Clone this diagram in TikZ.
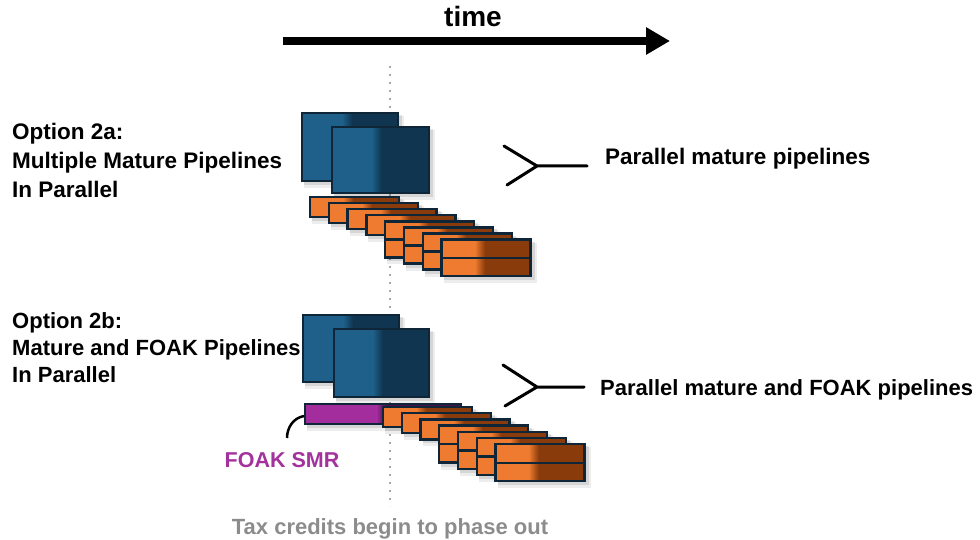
\documentclass[tikz,border=0pt]{standalone}
\usepackage{fontspec}
\setmainfont{Liberation Sans}
\usetikzlibrary{arrows.meta}
\definecolor{navy}{HTML}{0E2638}
\definecolor{bluel}{HTML}{1E6089}
\definecolor{blued}{HTML}{0F3550}
\definecolor{orl}{HTML}{EE7B2F}
\definecolor{ord}{HTML}{8A3B0C}
\definecolor{purl}{HTML}{A32D9C}
\definecolor{purd}{HTML}{4A0F48}
\definecolor{foakcol}{HTML}{A3329D}
\definecolor{taxgray}{HTML}{8C8C8C}
\definecolor{dotgray}{HTML}{A8A8A8}
\tikzset{
  boxline/.style={draw=navy,line width=2.4pt},
  forkline/.style={draw=black,line width=3pt,line cap=round,line join=miter},
  lbl/.style={font=\bfseries\fontsize{22}{28}\selectfont,inner sep=0pt,align=left},
}
% x y w h light dark frac rows
\newcommand\gbox[8]{%
  \fill[black,opacity=0.07] (#1+2,#2+3) rectangle ++(#3+4,#4+4);
  \fill[black,opacity=0.10] (#1+2,#2+2) rectangle ++(#3+2,#4+2);
  \fill[#5] (#1,#2) rectangle ++(#3,#4);
  \fill[#6] ({#1+#7*#3+5},#2) rectangle ({#1+#3},{#2+#4});
  \shade[left color=#5,right color=#6] ({#1+#7*#3-5},#2) rectangle ({#1+#7*#3+5},{#2+#4});
  \ifnum#8=2 \draw[boxline] (#1,{#2+#4/2}) -- ++(#3,0);\fi
  \draw[boxline] (#1,#2) rectangle ++(#3,#4);
}
\begin{document}
\begin{tikzpicture}[x=1pt,y=-1pt]
\useasboundingbox (0,0) rectangle (980,540);
% time arrow
\node[lbl,font=\bfseries\fontsize{28}{30}\selectfont,anchor=base] (time) at (473,27) {time};
\coordinate (ta) at (283,41);
\coordinate (tb) at (670,41);
\draw[line width=8pt,-{Triangle[length=24pt,width=26pt]}] (ta) -- (tb);
% dotted phase-out line
\coordinate (da) at (390,66);
\coordinate (db) at (390,506);
\draw[dotgray,line width=2pt,dash pattern=on 2pt off 6pt] (da) -- (db);

% ---- Option 2a ----
\node[lbl,font=\bfseries\fontsize{22.5}{29}\selectfont,anchor=base west] (o2a) at (12,198)
  {Option 2a:\\Multiple Mature Pipelines\\In Parallel};
\gbox{302}{113}{96}{68}{bluel}{blued}{0.47}{1}
\gbox{332}{127}{97}{66}{bluel}{blued}{0.46}{1}
\foreach \i in {0,...,7}{
  \pgfmathsetmacro\bx{310+18.8*\i}
  \pgfmathsetmacro\by{197+6.1*\i}
  \ifnum\i<4 \gbox{\bx}{\by}{89}{20}{orl}{ord}{0.43}{1}%
  \else \gbox{\bx}{\by}{89}{36}{orl}{ord}{0.43}{2}\fi
}
\coordinate (fa1) at (504,146);
\coordinate (fa0) at (537,166);
\coordinate (fa2) at (507,185);
\coordinate (fa3) at (587,166);
\draw[forkline] (fa1) -- (fa0) -- (fa2) (fa0) -- (fa3);
\node[lbl,font=\bfseries\fontsize{22.5}{28}\selectfont,anchor=base west] (pa) at (605,165) {Parallel mature pipelines};

% ---- Option 2b ----
\node[lbl,font=\bfseries\fontsize{22}{27}\selectfont,anchor=base west] (o2b) at (12,382)
  {Option 2b:\\Mature and FOAK Pipelines\\In Parallel};
\gbox{303}{315}{96}{67}{bluel}{blued}{0.47}{1}
\gbox{334}{329}{95}{68}{bluel}{blued}{0.46}{1}
\gbox{305}{404}{156}{20}{purl}{purd}{0.49}{1}
\coordinate (smr) at (304,416);
\foreach \i in {0,...,6}{
  \pgfmathsetmacro\bx{383+18.75*\i}
  \pgfmathsetmacro\by{407+6.2*\i}
  \ifnum\i<3 \gbox{\bx}{\by}{89}{20}{orl}{ord}{0.43}{1}%
  \else \gbox{\bx}{\by}{89}{37}{orl}{ord}{0.43}{2}\fi
}
\coordinate (fb1) at (503,365);
\coordinate (fb0) at (537,387);
\coordinate (fb2) at (505,406);
\coordinate (fb3) at (584,387);
\draw[forkline] (fb1) -- (fb0) -- (fb2) (fb0) -- (fb3);
\node[lbl,anchor=base west] (pb) at (600,395) {Parallel mature and FOAK pipelines};

% FOAK SMR label
\node[lbl,font=\bfseries\fontsize{21.5}{28}\selectfont,text=foakcol,anchor=base] (foak) at (282,467) {FOAK SMR};
\coordinate (arcend) at (287,438);
\draw[black,line width=2.5pt] (smr) .. controls (293,418) and (287,428) .. (arcend);

% tax credits
\node[lbl,text=taxgray,anchor=base] (tax) at (390,534) {Tax credits begin to phase out};
\end{tikzpicture}
\end{document}
